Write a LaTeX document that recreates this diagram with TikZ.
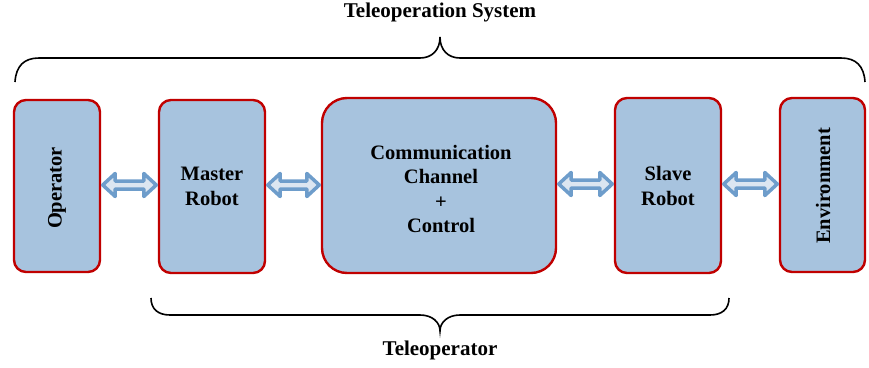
\documentclass[tikz,border=0pt]{standalone}
\usepackage{fontspec}
\setmainfont{Liberation Serif}
\usetikzlibrary{calc}
\definecolor{boxfill}{HTML}{A7C3DE}
\definecolor{boxline}{HTML}{C00000}
\definecolor{arrline}{HTML}{6E9DCB}
\definecolor{arrfill}{HTML}{DCE6F1}
\tikzset{
  block/.style={draw=boxline, fill=boxfill, line width=2.4pt, rounded corners=12pt},
  label/.style={align=center, font=\bfseries\fontsize{20.5}{25}\selectfont},
  biarrow/.style={draw=arrline, fill=arrfill, line width=3.5pt, line join=round},
  brace/.style={draw=black, line width=1.6pt},
  title/.style={font=\bfseries\fontsize{21}{24}\selectfont}
}
% double-headed block arrow from point (#1) to point (#2) on one horizontal line
\newcommand\linkarrow[2]{%
  \path[biarrow] let \p1=(#1), \p2=(#2) in
    (\x1+1.5pt,\y1) -- (\x1+14pt,\y1+11.5pt) -- (\x1+14pt,\y1+4pt) -- (\x2-14pt,\y1+4pt)
    -- (\x2-14pt,\y1+11.5pt) -- (\x2-1.5pt,\y1) -- (\x2-14pt,\y1-11.5pt) -- (\x2-14pt,\y1-4pt)
    -- (\x1+14pt,\y1-4pt) -- (\x1+14pt,\y1-11.5pt) -- cycle;}
\begin{document}
\begin{tikzpicture}[x=1pt,y=-1pt]
\useasboundingbox (0,0) rectangle (869,367);

% blocks
\node[block, minimum width=86pt, minimum height=172pt] (op) at (57,186) {};
\node[label, rotate=90] (opt) at (57,188) {Operator};

\node[block, minimum width=106pt, minimum height=173pt] (ms) at (212,186.5) {};
\node[label] (mst) at (212,186) {Master\\Robot};

\node[block, rounded corners=25pt, minimum width=234pt, minimum height=175pt] (cc) at (439,185.5) {};
\node[label, font=\bfseries\fontsize{20.5}{24.5}\selectfont] (cct) at (441,189) {Communication\\Channel\\+\\Control};

\node[block, minimum width=106pt, minimum height=175pt] (sl) at (668,185.5) {};
\node[label] (slt) at (668,186) {Slave\\Robot};

\node[block, minimum width=85pt, minimum height=174pt] (env) at (822.5,185) {};
\node[label, rotate=90] (envt) at (823,186) {Environment};

% connectors
\linkarrow{op.east |- 0,185}{ms.west |- 0,185}
\linkarrow{ms.east |- 0,185}{cc.west |- 0,185}
\linkarrow{cc.east |- 0,184}{sl.west |- 0,184}
\linkarrow{sl.east |- 0,184}{env.west |- 0,184}

% upper brace
\coordinate (tl) at (15,82);
\coordinate (tr) at (865,82);
\coordinate (tt) at (440,37);
\draw[brace] (tl) .. controls (16,66) and (24,58) .. (39,58) -- (420,58)
  .. controls (432,58) and (440,50) .. (tt) .. controls (440,50) and (448,58) .. (460,58)
  -- (841,58) .. controls (856,58) and (864,66) .. (tr);
\node[title] (sys) at (440,12) {Teleoperation System};

% lower brace
\coordinate (bl) at (151,298);
\coordinate (br) at (729,298);
\coordinate (bt) at (440,331);
\draw[brace] (bl) .. controls (151,309) and (158,315) .. (170,315) -- (420,315)
  .. controls (432,315) and (440,322) .. (bt) .. controls (440,322) and (448,315) .. (460,315)
  -- (710,315) .. controls (722,315) and (729,309) .. (br);
\node[title] (tel) at (440,350) {Teleoperator};
\end{tikzpicture}
\end{document}
